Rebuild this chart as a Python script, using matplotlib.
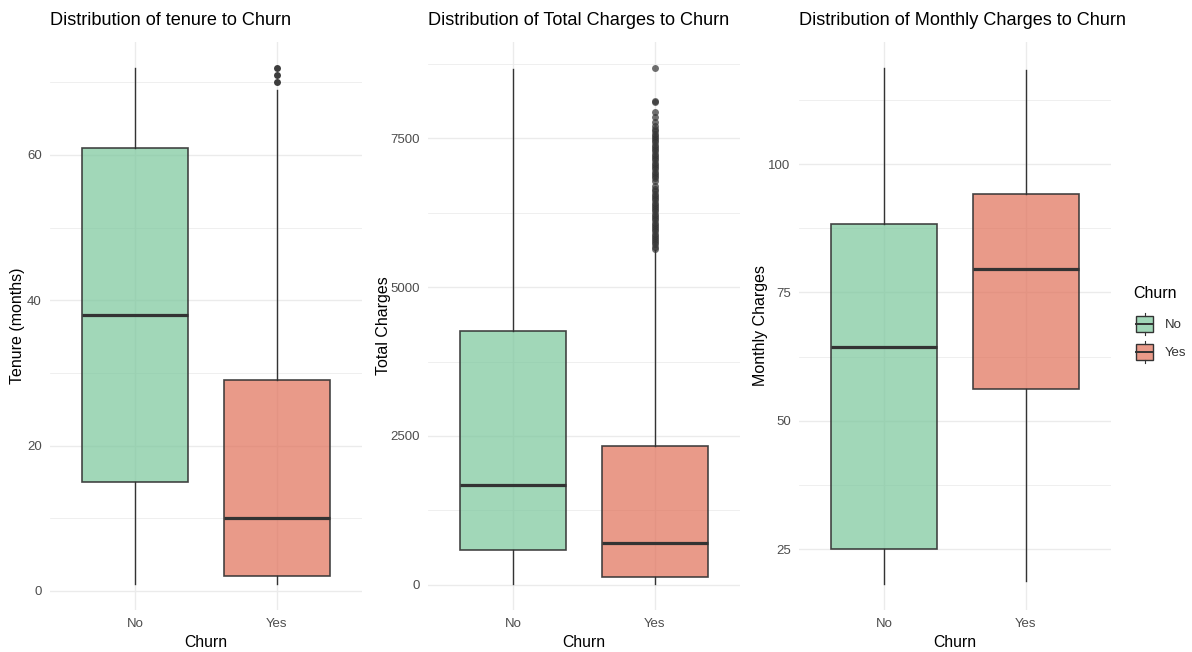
import matplotlib
matplotlib.use("Agg")
import matplotlib.pyplot as plt
from matplotlib.patches import Rectangle
from matplotlib.ticker import FixedLocator

plt.rcParams["font.family"] = ["Liberation Sans", "DejaVu Sans"]

# ---- data -------------------------------------------------------------
churn = ["No", "Yes"]

tenure_q1 = [15, 2]
tenure_med = [38, 10]
tenure_q3 = [61, 29]
tenure_lo = [1, 1]
tenure_hi = [72, 69]
tenure_out = [[], [70, 71, 72]]

total_q1 = [577.7, 134.5]
total_med = [1683.6, 703.55]
total_q3 = [4264.1, 2331.3]
total_lo = [18.8, 18.85]
total_hi = [8672.45, 5624.85]
total_out = [[], [5645, 5680, 5718, 5752, 5790, 5825, 5862, 5895, 5935, 5972,
                  6010, 6048, 6085, 6122, 6160, 6198, 6236, 6272, 6310, 6348,
                  6385, 6422, 6460, 6498, 6535, 6572, 6610, 6648, 6700, 6790,
                  6830, 6868, 6905, 6942, 6980, 7018, 7055, 7092, 7130, 7168,
                  7205, 7242, 7280, 7318, 7355, 7392, 7430, 7468, 7505, 7542,
                  7580, 7618, 7655, 7700, 7780, 7860, 7940, 8105, 8125, 8684.8]]

monthly_q1 = [25.1, 56.15]
monthly_med = [64.43, 79.65]
monthly_q3 = [88.4, 94.2]
monthly_lo = [18.25, 18.85]
monthly_hi = [118.75, 118.35]
monthly_out = [[], []]

tenure_ticks = [0, 20, 40, 60]
total_ticks = [0, 2500, 5000, 7500]
monthly_ticks = [25, 50, 75, 100]

# ---- style ------------------------------------------------------------
W, H = 1192, 652
fills = ["#79C69B", "#E06F57"]
fill_alpha = 0.7
dark = "#333333"
grid_col = "#EBEBEB"
tick_col = "#4D4D4D"

fig = plt.figure(figsize=(W / 100, H / 100), dpi=100)


def px_axes(left, top, right, bottom):
    return fig.add_axes([left / W, 1 - bottom / H, (right - left) / W, (bottom - top) / H])


def panel(ax, q1, med, q3, lo, hi, out, ticks, title, ylabel, ylab_x, flier_alpha):
    stats = []
    for i, name in enumerate(churn):
        stats.append(dict(label=name, q1=q1[i], med=med[i], q3=q3[i],
                          whislo=lo[i], whishi=hi[i], fliers=out[i]))
    bp = ax.bxp(stats, positions=[1, 2], widths=0.75, patch_artist=True,
                showcaps=False,
                boxprops=dict(edgecolor=dark, linewidth=1.2),
                medianprops=dict(color=dark, linewidth=2.3, solid_capstyle="butt"),
                whiskerprops=dict(color=dark, linewidth=1.0),
                flierprops=dict(marker="o", markersize=5, markerfacecolor=dark,
                                markeredgecolor="none", alpha=flier_alpha))
    for patch, c in zip(bp["boxes"], fills):
        patch.set_facecolor(matplotlib.colors.to_rgba(c, fill_alpha))
        patch.set_edgecolor(matplotlib.colors.to_rgba(dark, 0.9))

    # ggplot-like 5% expansion of the data range
    vals = lo + hi + [v for grp in out for v in grp]
    vmin, vmax = min(vals), max(vals)
    span = vmax - vmin
    ax.set_ylim(vmin - 0.05 * span, vmax + 0.05 * span)
    ax.set_xlim(0.4, 2.6)

    step = ticks[1] - ticks[0]
    minors = [t + step / 2 for t in [ticks[0] - step] + ticks]
    ax.yaxis.set_major_locator(FixedLocator(ticks))
    ax.yaxis.set_minor_locator(FixedLocator(minors))
    ax.set_xticks([1, 2])
    ax.set_xticklabels(churn)

    ax.grid(True, which="major", color=grid_col, linewidth=1.0)
    ax.grid(True, which="minor", axis="y", color=grid_col, linewidth=0.55)
    ax.set_axisbelow(True)
    for s in ax.spines.values():
        s.set_visible(False)
    ax.tick_params(which="both", length=0, labelsize=9.5, labelcolor=tick_col, pad=6)
    ax.set_facecolor("white")

    ax.set_title(title, loc="left", fontsize=13.1, color="black", pad=0,
                 y=1.038, va="center")
    ax.set_xlabel("Churn", fontsize=11.3, color="black")
    ax.xaxis.set_label_coords(0.5, -0.059)
    ax.xaxis.label.set_va("center")
    ax.set_ylabel(ylabel, fontsize=11.5, color="black")
    ax.yaxis.set_label_coords(ylab_x, 0.5)
    ax.yaxis.label.set_va("center")


ax1 = px_axes(50, 42, 362, 609.5)
panel(ax1, tenure_q1, tenure_med, tenure_q3, tenure_lo, tenure_hi, tenure_out,
      tenure_ticks, "Distribution of tenure to Churn", "Tenure (months)", -0.103, 0.95)

ax2 = px_axes(428, 42, 740, 609.5)
panel(ax2, total_q1, total_med, total_q3, total_lo, total_hi, total_out,
      total_ticks, "Distribution of Total Charges to Churn", "Total Charges", -0.144, 0.7)

ax3 = px_axes(799, 42, 1111, 609.5)
panel(ax3, monthly_q1, monthly_med, monthly_q3, monthly_lo, monthly_hi, monthly_out,
      monthly_ticks, "Distribution of Monthly Charges to Churn", "Monthly Charges", -0.125, 0.7)

# ---- legend -----------------------------------------------------------
lg = fig.add_axes([0, 0, 1, 1])
lg.set_xlim(0, W)
lg.set_ylim(H, 0)
lg.axis("off")
lg.patch.set_alpha(0)
lg.text(1133, 294, "Churn", fontsize=11.5, va="center", ha="left")
for i, name in enumerate(churn):
    top = 316 + i * 28
    kx = 1136
    lg.add_patch(Rectangle((kx, top), 17, 16,
                           facecolor=matplotlib.colors.to_rgba(fills[i], fill_alpha),
                           edgecolor=dark, linewidth=1.0))
    lg.plot([kx, kx + 17], [top + 8, top + 8], color=dark, linewidth=1.4)
    lg.plot([kx + 8.5, kx + 8.5], [top - 3, top], color=dark, linewidth=0.8)
    lg.plot([kx + 8.5, kx + 8.5], [top + 16, top + 19], color=dark, linewidth=0.8)
    lg.text(1165, top + 9, name, fontsize=9.5, color="#333333", va="center", ha="left")

fig.savefig("out.png", dpi=100, facecolor="white")
